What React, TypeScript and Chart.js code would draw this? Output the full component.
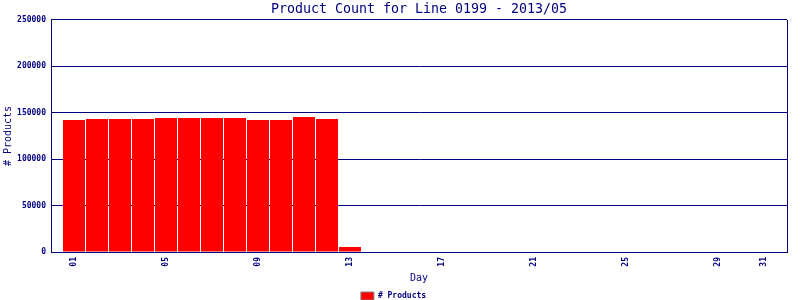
import { useEffect, useRef } from "react";
import { Chart, registerables } from "chart.js";

Chart.register(...registerables);

const chartTitle = "Product Count for Line 0199 - 2013/05";
const seriesLabel = "# Products";
const xAxisTitle = "Day";
const yAxisTitle = "# Products";

const days = [
  1, 2, 3, 4, 5, 6, 7, 8, 9, 10, 11, 12, 13, 14, 15, 16, 17, 18, 19, 20, 21,
  22, 23, 24, 25, 26, 27, 28, 29, 30, 31,
];
const productCounts = [
  142200, 143300, 143400, 143300, 144400, 144500, 144400, 144300, 142300,
  142200, 145500, 143300, 5400, 0, 0, 0, 0, 0, 0, 0, 0, 0, 0, 0, 0, 0, 0, 0, 0,
  0, 0,
];
const dayTicks = [1, 5, 9, 13, 17, 21, 25, 29, 31];
const yMax = 250000;
const yStep = 50000;

const NAVY = "#000080";
const MONO = "'DejaVu Sans Mono', 'Liberation Mono', monospace";

const frame = {
  id: "frame",
  afterDraw(chart: any) {
    const { ctx, chartArea } = chart;
    ctx.save();
    ctx.strokeStyle = NAVY;
    ctx.lineWidth = 1;
    ctx.beginPath();
    const r = Math.round(chartArea.right) + 0.5;
    ctx.moveTo(r, Math.round(chartArea.top));
    ctx.lineTo(r, Math.round(chartArea.bottom) + 1);
    ctx.stroke();
    ctx.restore();
  },
};

export default function App() {
  const ref = useRef<HTMLCanvasElement | null>(null);

  useEffect(() => {
    document.body.style.margin = "0";
    if (!ref.current) return;
    const chart = new Chart(ref.current, {
      type: "bar",
      data: {
        datasets: [
          {
            label: seriesLabel,
            data: days.map((d, i) => ({ x: d, y: productCounts[i] })),
            backgroundColor: "#ff0000",
            borderWidth: 0,
            inflateAmount: 0,
            barThickness: 22,
          },
        ],
      },
      plugins: [frame],
      options: {
        responsive: false,
        animation: false,
        layout: { padding: { left: 0, right: 13, top: 0, bottom: -10 } },
        plugins: {
          tooltip: { enabled: false },
          title: {
            display: true,
            text: chartTitle,
            color: NAVY,
            fullSize: false,
            font: { family: MONO, size: 13.3, weight: "normal" },
            padding: { top: 2, bottom: 2 },
          },
          legend: {
            display: true,
            position: "bottom",
            labels: {
              color: NAVY,
              font: { family: MONO, size: 8, weight: "bold" },
              boxWidth: 13,
              boxHeight: 8,
              padding: 2,
              generateLabels: (c: any) =>
                Chart.defaults.plugins.legend.labels
                  .generateLabels(c)
                  .map((l: any) => ({
                    ...l,
                    fillStyle: "#ff0000",
                    strokeStyle: "#808080",
                    lineWidth: 1,
                  })),
            },
          },
        },
        scales: {
          x: {
            type: "linear",
            min: 0,
            max: 32,
            offset: false,
            afterBuildTicks: (s: any) => {
              s.ticks = dayTicks.map((v) => ({ value: v }));
            },
            afterFit: (s: any) => {
              s.height = 38;
            },
            ticks: {
              autoSkip: false,
              minRotation: 90,
              maxRotation: 90,
              padding: 5,
              color: NAVY,
              font: { family: MONO, size: 8, weight: "bold" },
              callback: (v: any) => String(v).padStart(2, "0"),
            },
            grid: { display: false, drawTicks: false },
            border: { display: true, color: NAVY, width: 1 },
            title: {
              display: true,
              text: xAxisTitle,
              color: NAVY,
              font: { family: MONO, size: 10 },
              padding: { top: 0, bottom: 6 },
            },
          },
          y: {
            min: 0,
            max: yMax,
            afterFit: (s: any) => {
              s.width = 51;
            },
            ticks: {
              stepSize: yStep,
              padding: 5,
              color: NAVY,
              font: { family: MONO, size: 8, weight: "bold" },
              callback: (v: any) => String(v),
            },
            grid: { color: NAVY, lineWidth: 1, drawTicks: false },
            border: { display: true, color: NAVY, width: 1 },
            title: {
              display: true,
              text: yAxisTitle,
              color: NAVY,
              font: { family: MONO, size: 10 },
              padding: { top: 2, bottom: 0 },
            },
          },
        },
      },
    } as any);
    return () => chart.destroy();
  }, []);

  return (
    <canvas
      ref={ref}
      width={800}
      height={300}
      style={{ display: "block", width: 800, height: 300 }}
    />
  );
}
